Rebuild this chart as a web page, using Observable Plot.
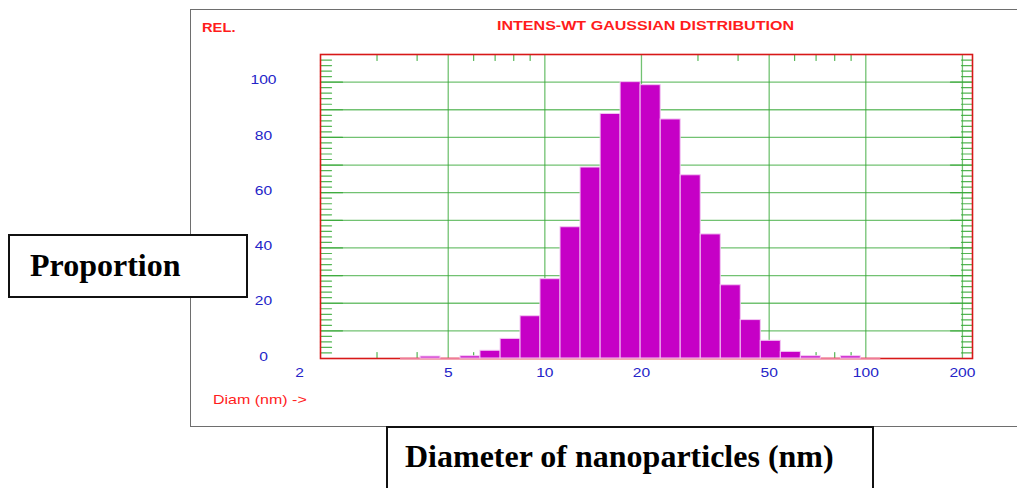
<!DOCTYPE html>
<html><head><meta charset="utf-8">
<script src="https://cdn.jsdelivr.net/npm/d3@7"></script>
<script src="https://cdn.jsdelivr.net/npm/@observablehq/plot@0.6"></script>
<style>
html,body{margin:0;padding:0;background:#fff;overflow:hidden;}
#wrap{position:relative;width:1017px;height:488px;overflow:hidden;background:#fff;}
.outer{position:absolute;left:190px;top:9px;width:900px;height:416px;border:1.5px solid #6e6e6e;}
#chart{position:absolute;left:0;top:0;}
.lbl{position:absolute;white-space:nowrap;font-family:"Liberation Sans",Arial,sans-serif;font-size:13px;line-height:13px;color:#ff1c1c;transform-origin:0 50%;}
.rel{left:202px;top:21px;font-weight:bold;transform:scaleX(1.13);}
.title{left:497px;top:19px;font-weight:bold;transform:scaleX(1.235);}
.diam{left:212.5px;top:393px;transform:scaleX(1.23);}
.box{position:absolute;background:#fff;border:2px solid #111;}
.box span{position:absolute;white-space:nowrap;font-family:"Liberation Serif","Times New Roman",serif;font-weight:bold;font-size:32px;line-height:32px;color:#000;}
.prop{left:8px;top:234px;width:236px;height:60px;}
.prop span{left:20px;top:13px;}
.dia{left:386px;top:426px;width:484px;height:100px;}
.dia span{left:17px;top:12px;}
</style></head><body>
<div id="wrap">
  <div class="outer"></div>
  <div id="chart"></div>
  <div class="lbl rel">REL.</div>
  <div class="lbl title">INTENS-WT GAUSSIAN DISTRIBUTION</div>
  <div class="lbl diam">Diam (nm) -&gt;</div>
  <div class="box prop"><span>Proportion</span></div>
  <div class="box dia"><span>Diameter of nanoparticles (nm)</span></div>
</div>
<script>
// Histogram bin edges (diameter, nm) on the log axis, and relative intensity per bin
const binEdges = [3.55, 4.10, 4.73, 5.46, 6.30, 7.28, 8.40, 9.69, 11.19, 12.92, 14.92, 17.22,
  19.88, 22.96, 26.50, 30.60, 35.33, 40.78, 47.08, 54.35, 62.75, 72.44, 83.64, 96.47, 111.4];
const intensity = [0, 0.7, 0, 0.8, 2.8, 7.1, 15.3, 28.7, 47.5, 69.1, 88.5, 100,
  98.9, 86.5, 66.3, 44.9, 26.5, 13.9, 6.4, 2.4, 0.8, 0, 0.8, 0];

const xDomain = [2, 215];
const yDomain = [0, 110];
const xTickLabels = [5, 10, 20, 50, 100, 200];
const xFirstLabel = [2];
const yTickLabels = [0, 20, 40, 60, 80, 100];
const xGrid = [5, 10, 20, 50, 100, 200];
const xMinorTicks = [3, 4, 6, 7, 8, 9, 30, 40, 60, 70, 80, 90];
const yGrid = [10, 20, 30, 40, 50, 60, 70, 80, 90, 100];
const yMinorTicks = [2, 4, 6, 8, 12, 14, 16, 18, 22, 24, 26, 28, 32, 34, 36, 38, 42, 44, 46, 48,
  52, 54, 56, 58, 62, 64, 66, 68, 72, 74, 76, 78, 82, 84, 86, 88, 92, 94, 96, 98, 102, 104, 106, 108];

const bins = intensity.map((v, i) => ({x1: binEdges[i], x2: binEdges[i + 1], y: v}));

const GREEN = "#36a836";
const RED = "#d81818";
const BLUE = "#2424c8";
const line = {draw(ctx, l) { ctx.moveTo(0, 0); ctx.lineTo(0, -l); }};

const tickMark = (data, xv, yv, rotate, length) => Plot.vector(data, {
  x: xv, y: yv, rotate, length, anchor: "start", shape: line,
  stroke: GREEN, strokeWidth: 1.2, strokeOpacity: 0.85
});

const chart = Plot.plot({
  width: 1017, height: 488,
  marginLeft: 320, marginRight: 45, marginTop: 54, marginBottom: 130,
  style: {background: "transparent", fontFamily: "'Liberation Sans', Arial, sans-serif", fontSize: "13px", overflow: "visible"},
  x: {type: "log", domain: xDomain, axis: null},
  y: {domain: yDomain},
  marks: [
    Plot.ruleY(yGrid, {stroke: GREEN, strokeWidth: 1.3, strokeOpacity: 0.7}),
    Plot.ruleX(xGrid, {stroke: GREEN, strokeWidth: 1.3, strokeOpacity: 0.7}),
    tickMark(yMinorTicks, () => xDomain[0], d => d, 90, 11),
    tickMark(yGrid, () => xDomain[0], d => d, 90, 22),
    tickMark(yMinorTicks, () => xDomain[1], d => d, -90, 11),
    tickMark(yGrid, () => xDomain[1], d => d, -90, 22),
    tickMark(xMinorTicks, d => d, () => yDomain[1], 180, 6),
    tickMark(xMinorTicks, d => d, () => yDomain[0], 0, 6),
    Plot.frame({stroke: RED, strokeWidth: 1.6}),
    Plot.ruleY([0], {x1: binEdges[0], x2: binEdges[binEdges.length - 1], stroke: "#f07a9a", strokeWidth: 1.6}),
    Plot.rectY(bins.filter(d => d.y > 0), {x1: "x1", x2: "x2", y: "y", fill: "#c600c6", stroke: "#f3c6f3", strokeWidth: 1}),
    Plot.axisY(yTickLabels, {anchor: "left", tickSize: 0, tickPadding: 57, textAnchor: "middle", dy: -2, color: BLUE, label: null, tickFormat: d => String(d)}),
    Plot.text(xTickLabels, {x: d => d, frameAnchor: "bottom", dy: 18.5, text: d => String(d), fill: BLUE}),
    Plot.text(xFirstLabel, {x: d => d, frameAnchor: "bottom", dy: 18.5, dx: -21, text: d => String(d), fill: BLUE})
  ]
});
document.getElementById("chart").appendChild(chart);
// widen the tick labels slightly, as in the original rendering
chart.querySelectorAll("g[aria-label$='axis tick label'] text, g[aria-label='text'] text").forEach(t => {
  const tr = t.getAttribute("transform") || "";
  t.setAttribute("transform", tr + " scale(1.2,1)");
});
</script>
</body></html>
